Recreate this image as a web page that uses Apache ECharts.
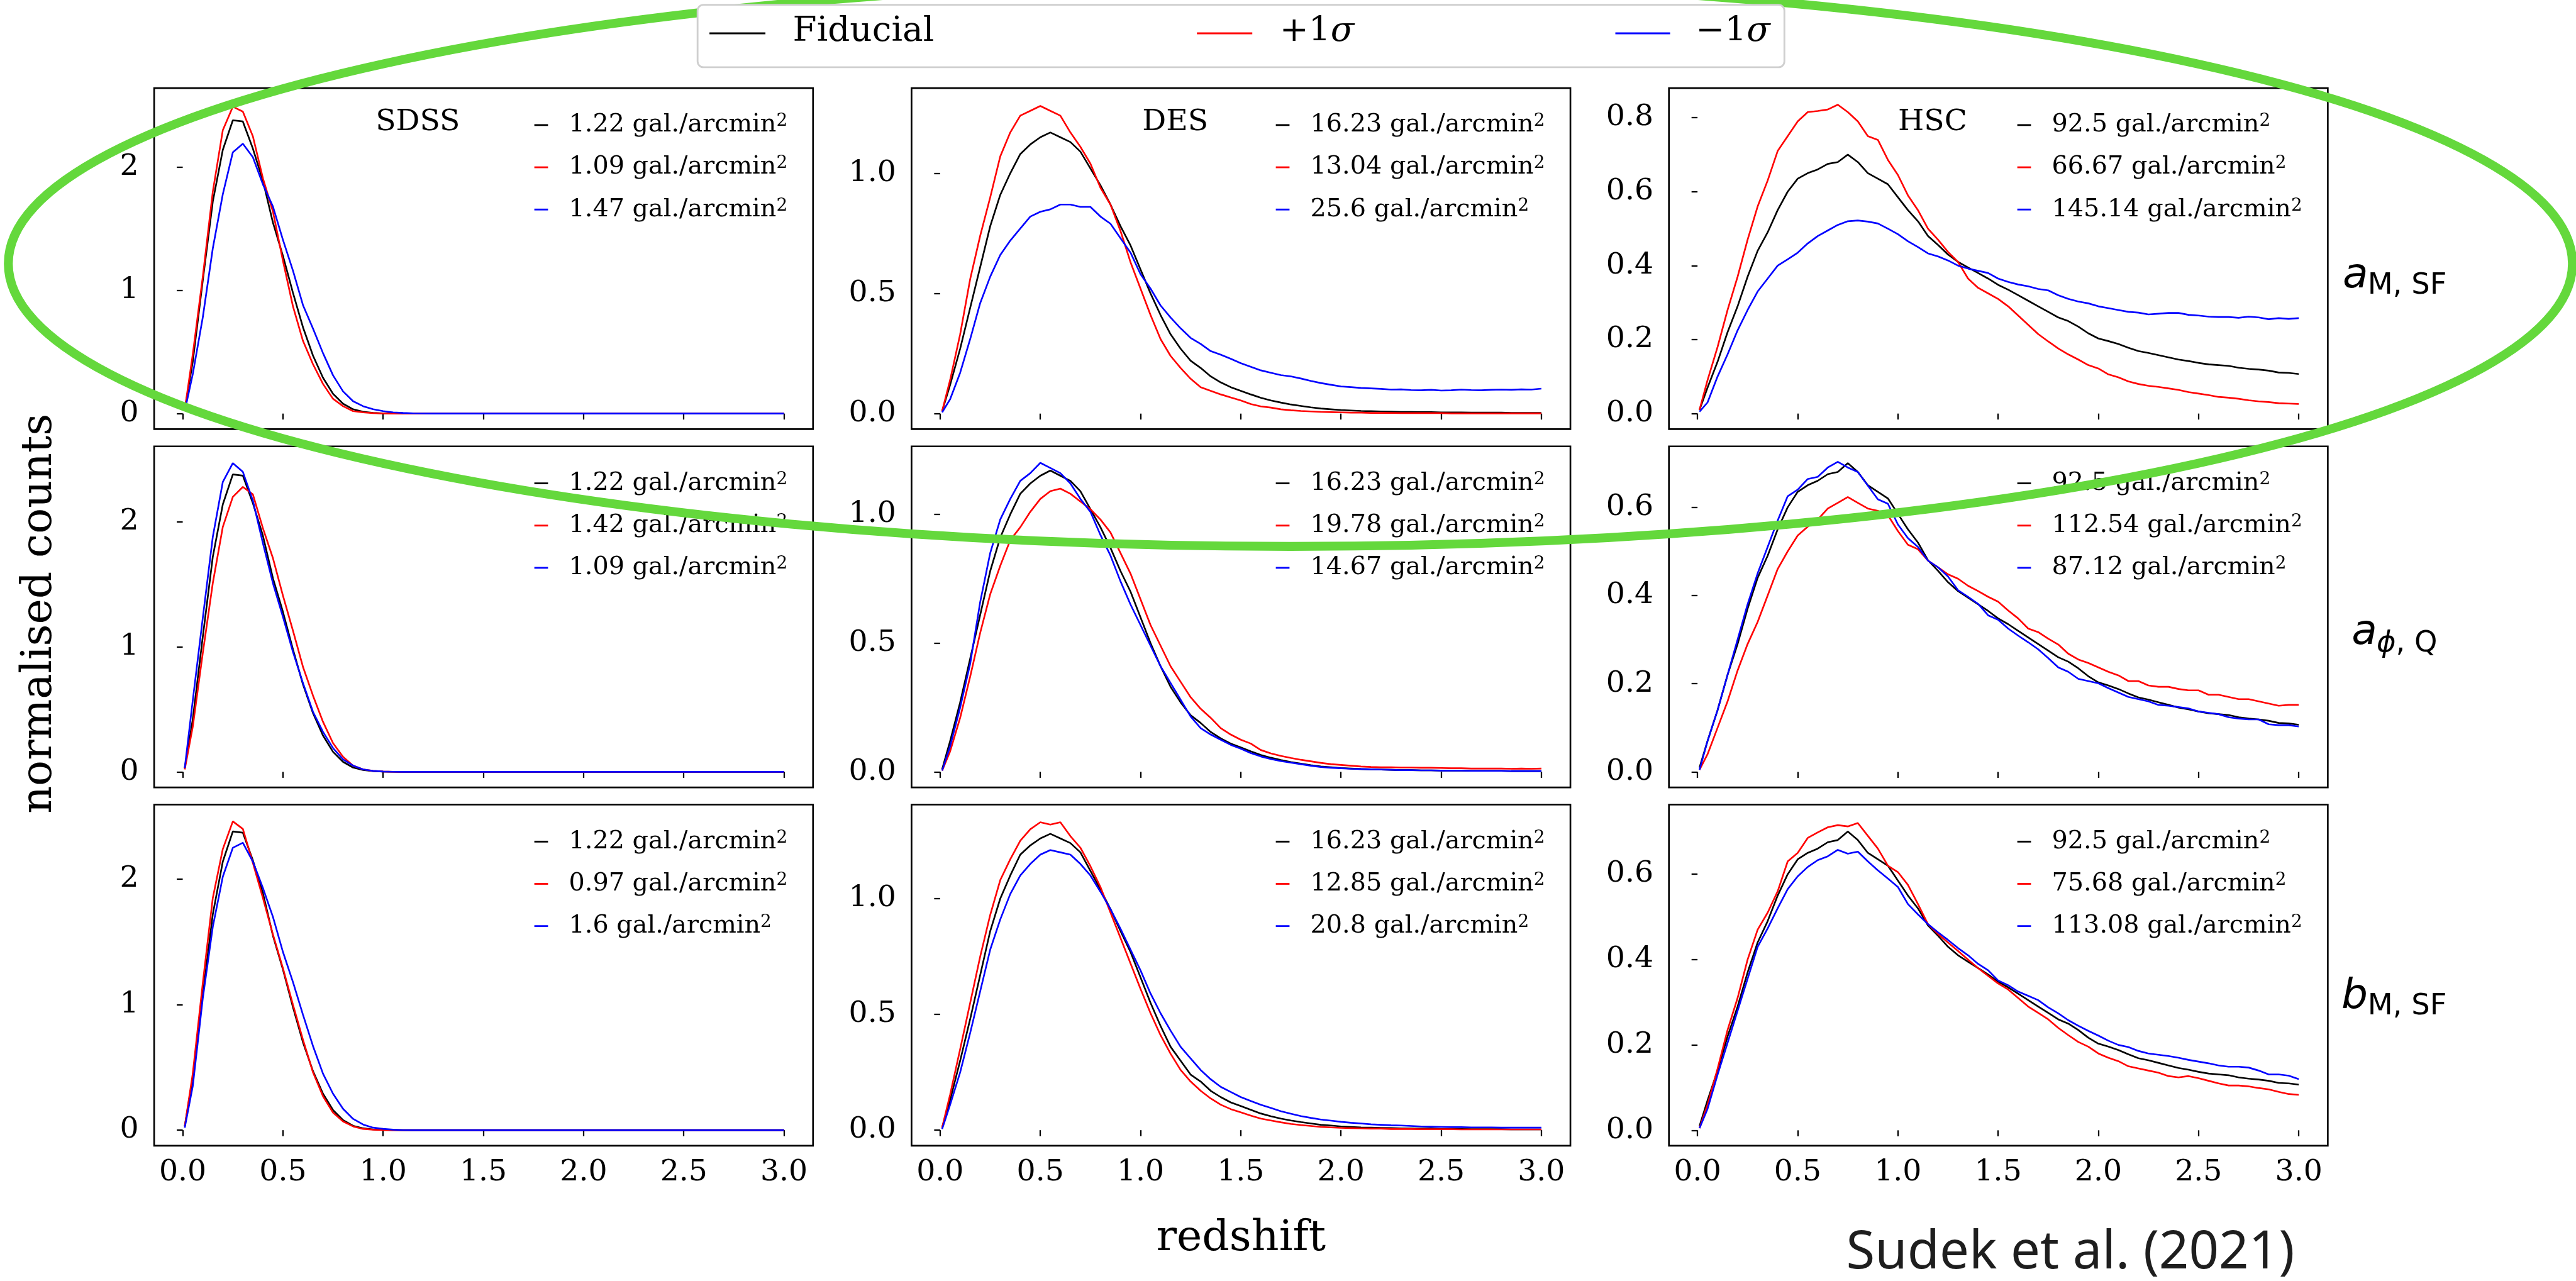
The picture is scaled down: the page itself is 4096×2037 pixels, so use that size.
<!DOCTYPE html>
<html>
<head>
<meta charset="utf-8">
<script src="https://cdn.jsdelivr.net/npm/echarts@6/dist/echarts.min.js"></script>
<style>
  html, body { margin: 0; padding: 0; background: #ffffff; }
  #chart { width: 4096px; height: 2037px; }
</style>
</head>
<body>
<div id="chart"></div>
<script>
// ---------------------------------------------------------------------------
// Redshift sampling shared by every curve
// ---------------------------------------------------------------------------
const REDSHIFT = [
  0.01, 0.05, 0.10, 0.15, 0.20, 0.25, 0.30, 0.35, 0.40, 0.45,
  0.50, 0.55, 0.60, 0.65, 0.70, 0.75, 0.80, 0.85, 0.90, 0.95,
  1.00, 1.05, 1.10, 1.15, 1.20, 1.25, 1.30, 1.35, 1.40, 1.45,
  1.50, 1.55, 1.60, 1.65, 1.70, 1.75, 1.80, 1.85, 1.90, 1.95,
  2.00, 2.05, 2.10, 2.15, 2.20, 2.25, 2.30, 2.35, 2.40, 2.45,
  2.50, 2.55, 2.60, 2.65, 2.70, 2.75, 2.80, 2.85, 2.90, 2.95,
  3.00
];

// ---------------------------------------------------------------------------
// SDSS normalised counts
// ---------------------------------------------------------------------------
const SDSS_FID = [
  0.03, 0.42, 1.08, 1.72, 2.14, 2.38, 2.37, 2.15, 1.89, 1.55,
  1.28, 0.98, 0.70, 0.47, 0.29, 0.16, 0.08, 0.035, 0.015, 0.006,
  0.002, 0.001, 0, 0, 0, 0, 0, 0, 0, 0,
  0, 0, 0, 0, 0, 0, 0, 0, 0, 0,
  0, 0, 0, 0, 0, 0, 0, 0, 0, 0,
  0, 0, 0, 0, 0, 0, 0, 0, 0, 0,
  0
];
const SDSS_AMSF_PLUS = [
  0.03, 0.48, 1.11, 1.80, 2.30, 2.49, 2.45, 2.25, 1.91, 1.64,
  1.24, 0.87, 0.59, 0.40, 0.24, 0.12, 0.06, 0.02, 0.01, 0.004,
  0.001, 0, 0, 0, 0, 0, 0, 0, 0, 0,
  0, 0, 0, 0, 0, 0, 0, 0, 0, 0,
  0, 0, 0, 0, 0, 0, 0, 0, 0, 0,
  0, 0, 0, 0, 0, 0, 0, 0, 0, 0,
  0
];
const SDSS_AMSF_MINUS = [
  0.02, 0.32, 0.78, 1.34, 1.78, 2.12, 2.19, 2.08, 1.86, 1.68,
  1.41, 1.16, 0.88, 0.69, 0.49, 0.31, 0.18, 0.10, 0.06, 0.035,
  0.02, 0.01, 0.005, 0.002, 0.001, 0, 0, 0, 0, 0,
  0, 0, 0, 0, 0, 0, 0, 0, 0, 0,
  0, 0, 0, 0, 0, 0, 0, 0, 0, 0,
  0, 0, 0, 0, 0, 0, 0, 0, 0, 0,
  0
];
const SDSS_APHIQ_PLUS = [
  0.02, 0.36, 0.95, 1.51, 1.96, 2.20, 2.28, 2.22, 1.95, 1.71,
  1.41, 1.13, 0.84, 0.61, 0.40, 0.23, 0.12, 0.05, 0.02, 0.008,
  0.003, 0.001, 0, 0, 0, 0, 0, 0, 0, 0,
  0, 0, 0, 0, 0, 0, 0, 0, 0, 0,
  0, 0, 0, 0, 0, 0, 0, 0, 0, 0,
  0, 0, 0, 0, 0, 0, 0, 0, 0, 0,
  0
];
const SDSS_APHIQ_MINUS = [
  0.03, 0.57, 1.23, 1.88, 2.32, 2.47, 2.40, 2.17, 1.83, 1.51,
  1.24, 0.96, 0.71, 0.48, 0.32, 0.19, 0.10, 0.05, 0.02, 0.008,
  0.003, 0.001, 0, 0, 0, 0, 0, 0, 0, 0,
  0, 0, 0, 0, 0, 0, 0, 0, 0, 0,
  0, 0, 0, 0, 0, 0, 0, 0, 0, 0,
  0, 0, 0, 0, 0, 0, 0, 0, 0, 0,
  0
];
const SDSS_BMSF_PLUS = [
  0.03, 0.45, 1.17, 1.85, 2.24, 2.46, 2.40, 2.13, 1.85, 1.56,
  1.29, 1.00, 0.72, 0.46, 0.27, 0.14, 0.07, 0.03, 0.01, 0.004,
  0.001, 0, 0, 0, 0, 0, 0, 0, 0, 0,
  0, 0, 0, 0, 0, 0, 0, 0, 0, 0,
  0, 0, 0, 0, 0, 0, 0, 0, 0, 0,
  0, 0, 0, 0, 0, 0, 0, 0, 0, 0,
  0
];
const SDSS_BMSF_MINUS = [
  0.02, 0.35, 1.05, 1.62, 2.02, 2.25, 2.29, 2.14, 1.93, 1.70,
  1.42, 1.18, 0.92, 0.67, 0.45, 0.29, 0.17, 0.09, 0.045, 0.02,
  0.01, 0.004, 0.001, 0, 0, 0, 0, 0, 0, 0,
  0, 0, 0, 0, 0, 0, 0, 0, 0, 0,
  0, 0, 0, 0, 0, 0, 0, 0, 0, 0,
  0, 0, 0, 0, 0, 0, 0, 0, 0, 0,
  0
];

// ---------------------------------------------------------------------------
// DES normalised counts
// ---------------------------------------------------------------------------
const DES_FID = [
  0.01, 0.12, 0.27, 0.44, 0.61, 0.78, 0.91, 1.00, 1.08, 1.12,
  1.15, 1.17, 1.15, 1.13, 1.09, 1.02, 0.95, 0.87, 0.78, 0.70,
  0.60, 0.50, 0.41, 0.33, 0.27, 0.22, 0.19, 0.155, 0.13, 0.11,
  0.095, 0.08, 0.066, 0.055, 0.046, 0.038, 0.032, 0.026, 0.021, 0.018,
  0.015, 0.013, 0.011, 0.010, 0.009, 0.008, 0.007, 0.007, 0.006, 0.006,
  0.005, 0.005, 0.005, 0.004, 0.004, 0.004, 0.004, 0.003, 0.003, 0.003,
  0.003
];
const DES_AMSF_PLUS = [
  0.01, 0.14, 0.33, 0.56, 0.74, 0.90, 1.07, 1.17, 1.24, 1.26,
  1.28, 1.26, 1.24, 1.17, 1.11, 1.04, 0.94, 0.87, 0.76, 0.63,
  0.52, 0.41, 0.31, 0.24, 0.19, 0.145, 0.11, 0.095, 0.08, 0.067,
  0.055, 0.04, 0.03, 0.025, 0.018, 0.014, 0.011, 0.009, 0.007, 0.006,
  0.005, 0.004, 0.004, 0.003, 0.003, 0.003, 0.002, 0.002, 0.002, 0.002,
  0.002, 0.001, 0.001, 0.001, 0.001, 0.001, 0.001, 0.001, 0.001, 0.001,
  0.001
];
const DES_AMSF_MINUS = [
  0.005, 0.06, 0.17, 0.31, 0.46, 0.57, 0.66, 0.72, 0.77, 0.82,
  0.84, 0.85, 0.87, 0.87, 0.86, 0.86, 0.82, 0.79, 0.73, 0.67,
  0.58, 0.52, 0.45, 0.40, 0.355, 0.315, 0.29, 0.26, 0.245, 0.228,
  0.21, 0.195, 0.18, 0.17, 0.16, 0.155, 0.146, 0.136, 0.127, 0.12,
  0.113, 0.11, 0.107, 0.105, 0.103, 0.10, 0.101, 0.098, 0.097, 0.099,
  0.096, 0.097, 0.10, 0.098, 0.097, 0.099, 0.10, 0.099, 0.101, 0.10,
  0.104
];
const DES_APHIQ_PLUS = [
  0.005, 0.08, 0.21, 0.37, 0.54, 0.69, 0.80, 0.90, 0.95, 1.01,
  1.06, 1.09, 1.10, 1.08, 1.05, 1.02, 0.98, 0.93, 0.85, 0.77,
  0.67, 0.57, 0.49, 0.41, 0.35, 0.29, 0.245, 0.21, 0.17, 0.145,
  0.125, 0.11, 0.085, 0.072, 0.062, 0.054, 0.047, 0.041, 0.035, 0.03,
  0.027, 0.024, 0.021, 0.019, 0.018, 0.018, 0.017, 0.017, 0.016, 0.016,
  0.015, 0.014, 0.014, 0.013, 0.013, 0.013, 0.013, 0.012, 0.013, 0.012,
  0.013
];
const DES_APHIQ_MINUS = [
  0.005, 0.10, 0.25, 0.42, 0.66, 0.85, 0.98, 1.06, 1.13, 1.16,
  1.20, 1.18, 1.16, 1.12, 1.06, 1.01, 0.92, 0.84, 0.74, 0.65,
  0.57, 0.49, 0.41, 0.345, 0.28, 0.215, 0.17, 0.145, 0.125, 0.105,
  0.09, 0.073, 0.06, 0.05, 0.042, 0.036, 0.03, 0.024, 0.019, 0.016,
  0.014, 0.012, 0.011, 0.010, 0.009, 0.008, 0.007, 0.007, 0.006, 0.006,
  0.005, 0.005, 0.005, 0.004, 0.004, 0.004, 0.004, 0.003, 0.003, 0.003,
  0.003
];
// b_M,SF row is plotted on its own, taller axis
const DES_FID_BROW = [
  0.011, 0.13, 0.30, 0.48, 0.67, 0.86, 1.00, 1.10, 1.19, 1.23,
  1.26, 1.28, 1.26, 1.24, 1.20, 1.12, 1.04, 0.955, 0.86, 0.77,
  0.66, 0.55, 0.45, 0.36, 0.30, 0.24, 0.21, 0.17, 0.143, 0.12,
  0.104, 0.088, 0.072, 0.06, 0.05, 0.042, 0.035, 0.029, 0.023, 0.02,
  0.016, 0.014, 0.012, 0.011, 0.010, 0.009, 0.008, 0.008, 0.007, 0.007,
  0.005, 0.005, 0.005, 0.004, 0.004, 0.004, 0.004, 0.003, 0.003, 0.003,
  0.003
];
const DES_BMSF_PLUS = [
  0.011, 0.154, 0.35, 0.55, 0.75, 0.93, 1.08, 1.17, 1.25, 1.30,
  1.33, 1.32, 1.33, 1.27, 1.22, 1.14, 1.05, 0.94, 0.83, 0.72,
  0.61, 0.505, 0.41, 0.33, 0.26, 0.21, 0.17, 0.137, 0.11, 0.091,
  0.077, 0.063, 0.05, 0.042, 0.034, 0.027, 0.022, 0.018, 0.014, 0.012,
  0.010, 0.009, 0.008, 0.007, 0.007, 0.005, 0.005, 0.005, 0.004, 0.004,
  0.004, 0.004, 0.003, 0.003, 0.003, 0.003, 0.003, 0.003, 0.003, 0.003,
  0.003
];
const DES_BMSF_MINUS = [
  0.005, 0.11, 0.25, 0.42, 0.60, 0.78, 0.91, 1.02, 1.10, 1.15,
  1.19, 1.21, 1.20, 1.19, 1.15, 1.10, 1.03, 0.955, 0.87, 0.78,
  0.69, 0.59, 0.505, 0.43, 0.36, 0.31, 0.26, 0.22, 0.187, 0.165,
  0.143, 0.126, 0.11, 0.096, 0.082, 0.071, 0.061, 0.053, 0.046, 0.041,
  0.036, 0.032, 0.029, 0.025, 0.023, 0.021, 0.02, 0.018, 0.016, 0.015,
  0.014, 0.013, 0.013, 0.012, 0.012, 0.012, 0.011, 0.011, 0.011, 0.011,
  0.011
];

// ---------------------------------------------------------------------------
// HSC normalised counts
// ---------------------------------------------------------------------------
const HSC_FID = [
  0.01, 0.07, 0.14, 0.22, 0.29, 0.37, 0.44, 0.49, 0.55, 0.60,
  0.635, 0.65, 0.66, 0.675, 0.68, 0.70, 0.68, 0.65, 0.635, 0.62,
  0.585, 0.55, 0.52, 0.48, 0.456, 0.43, 0.41, 0.395, 0.38, 0.365,
  0.348, 0.335, 0.32, 0.305, 0.29, 0.275, 0.26, 0.25, 0.235, 0.217,
  0.203, 0.196, 0.188, 0.178, 0.169, 0.164, 0.158, 0.152, 0.146, 0.142,
  0.137, 0.133, 0.131, 0.129, 0.124, 0.121, 0.119, 0.116, 0.111, 0.11,
  0.107
];
const HSC_AMSF_PLUS = [
  0.01, 0.09, 0.18, 0.28, 0.37, 0.47, 0.56, 0.63, 0.71, 0.75,
  0.79, 0.815, 0.818, 0.822, 0.835, 0.815, 0.79, 0.75, 0.74, 0.686,
  0.645, 0.59, 0.55, 0.50, 0.47, 0.437, 0.41, 0.365, 0.34, 0.325,
  0.31, 0.29, 0.265, 0.24, 0.215, 0.195, 0.176, 0.16, 0.146, 0.131,
  0.122, 0.106, 0.098, 0.087, 0.08, 0.075, 0.072, 0.068, 0.064, 0.058,
  0.054, 0.05, 0.045, 0.043, 0.04, 0.036, 0.033, 0.031, 0.028, 0.027,
  0.026
];
const HSC_AMSF_MINUS = [
  0.005, 0.03, 0.10, 0.16, 0.225, 0.28, 0.33, 0.365, 0.40, 0.417,
  0.435, 0.46, 0.48, 0.495, 0.51, 0.52, 0.522, 0.519, 0.514, 0.50,
  0.485, 0.466, 0.45, 0.433, 0.425, 0.414, 0.40, 0.392, 0.386, 0.38,
  0.365, 0.356, 0.349, 0.344, 0.337, 0.333, 0.32, 0.31, 0.303, 0.298,
  0.29, 0.285, 0.28, 0.275, 0.273, 0.268, 0.27, 0.272, 0.272, 0.267,
  0.265, 0.262, 0.261, 0.261, 0.259, 0.262, 0.26, 0.255, 0.258, 0.256,
  0.258
];
const HSC_APHIQ_PLUS = [
  0.005, 0.04, 0.10, 0.16, 0.23, 0.29, 0.34, 0.40, 0.46, 0.50,
  0.536, 0.556, 0.572, 0.597, 0.61, 0.623, 0.61, 0.597, 0.592, 0.582,
  0.546, 0.515, 0.505, 0.479, 0.464, 0.448, 0.438, 0.422, 0.41, 0.397,
  0.386, 0.366, 0.348, 0.325, 0.317, 0.302, 0.289, 0.268, 0.255, 0.247,
  0.237, 0.227, 0.219, 0.206, 0.206, 0.196, 0.193, 0.193, 0.188, 0.185,
  0.185, 0.175, 0.175, 0.17, 0.165, 0.165, 0.16, 0.155, 0.15, 0.152,
  0.152
];
const HSC_APHIQ_MINUS = [
  0.005, 0.07, 0.14, 0.22, 0.30, 0.38, 0.45, 0.51, 0.57, 0.625,
  0.64, 0.664, 0.669, 0.69, 0.703, 0.69, 0.68, 0.649, 0.618, 0.608,
  0.561, 0.53, 0.51, 0.479, 0.464, 0.443, 0.412, 0.397, 0.381, 0.355,
  0.345, 0.325, 0.309, 0.294, 0.278, 0.258, 0.237, 0.227, 0.211, 0.206,
  0.201, 0.19, 0.18, 0.17, 0.165, 0.16, 0.152, 0.15, 0.147, 0.144,
  0.137, 0.134, 0.131, 0.124, 0.121, 0.119, 0.119, 0.108, 0.106, 0.106,
  0.103
];
const HSC_BMSF_PLUS = [
  0.005, 0.06, 0.144, 0.235, 0.31, 0.40, 0.47, 0.51, 0.56, 0.63,
  0.65, 0.685, 0.698, 0.71, 0.715, 0.712, 0.72, 0.69, 0.66, 0.62,
  0.605, 0.575, 0.53, 0.483, 0.46, 0.44, 0.42, 0.40, 0.38, 0.362,
  0.344, 0.33, 0.31, 0.29, 0.275, 0.26, 0.24, 0.223, 0.207, 0.196,
  0.18, 0.17, 0.162, 0.15, 0.145, 0.14, 0.135, 0.127, 0.124, 0.127,
  0.122, 0.116, 0.11, 0.105, 0.105, 0.103, 0.099, 0.096, 0.09, 0.085,
  0.083
];
const HSC_BMSF_MINUS = [
  0.005, 0.05, 0.13, 0.205, 0.28, 0.355, 0.43, 0.473, 0.52, 0.565,
  0.595, 0.617, 0.633, 0.642, 0.657, 0.648, 0.653, 0.63, 0.609, 0.59,
  0.57, 0.53, 0.506, 0.483, 0.464, 0.446, 0.427, 0.41, 0.39, 0.375,
  0.351, 0.34, 0.325, 0.315, 0.305, 0.288, 0.274, 0.258, 0.245, 0.233,
  0.222, 0.21, 0.20, 0.195, 0.186, 0.18, 0.177, 0.174, 0.17, 0.165,
  0.161, 0.157, 0.152, 0.149, 0.149, 0.147, 0.14, 0.131, 0.131, 0.128,
  0.12
];

// ---------------------------------------------------------------------------
// Labels
// ---------------------------------------------------------------------------
const SURVEYS = ['SDSS', 'DES', 'HSC'];
const VARIANT_NAMES = ['Fiducial', '+1', '\u22121'];
// galaxy densities in gal./arcmin², per row (parameter) and column (survey): [fiducial, +1σ, −1σ]
const DENSITIES = [
  [['1.22', '1.09', '1.47'], ['16.23', '13.04', '25.6'], ['92.5', '66.67', '145.14']],
  [['1.22', '1.42', '1.09'], ['16.23', '19.78', '14.67'], ['92.5', '112.54', '87.12']],
  [['1.22', '0.97', '1.6'], ['16.23', '12.85', '20.8'], ['92.5', '75.68', '113.08']]
];
const CURVES = [
  [[SDSS_FID, SDSS_AMSF_PLUS, SDSS_AMSF_MINUS], [DES_FID, DES_AMSF_PLUS, DES_AMSF_MINUS], [HSC_FID, HSC_AMSF_PLUS, HSC_AMSF_MINUS]],
  [[SDSS_FID, SDSS_APHIQ_PLUS, SDSS_APHIQ_MINUS], [DES_FID, DES_APHIQ_PLUS, DES_APHIQ_MINUS], [HSC_FID, HSC_APHIQ_PLUS, HSC_APHIQ_MINUS]],
  [[SDSS_FID, SDSS_BMSF_PLUS, SDSS_BMSF_MINUS], [DES_FID_BROW, DES_BMSF_PLUS, DES_BMSF_MINUS], [HSC_FID, HSC_BMSF_PLUS, HSC_BMSF_MINUS]]
];
const PARAM_LABELS = [
  { main: 'a', sub: [['n', 'M, SF']] },
  { main: 'a', sub: [['i', '\u03d5'], ['n', ', Q']] },
  { main: 'b', sub: [['n', 'M, SF']] }
];

// axis ticks and ranges
const X_TICKS = [0, 0.5, 1.0, 1.5, 2.0, 2.5, 3.0];
const X_RANGE = [-0.1426, 3.145];
const Y_TICKS = [
  [[0, 1, 2], [0, 0.5, 1.0], [0, 0.2, 0.4, 0.6, 0.8]],
  [[0, 1, 2], [0, 0.5, 1.0], [0, 0.2, 0.4, 0.6]],
  [[0, 1, 2], [0, 0.5, 1.0], [0, 0.2, 0.4, 0.6]]
];
const Y_DECIMALS = [0, 1, 1];
const Y_RANGE = [
  [[-0.126, 2.641], [-0.0645, 1.3545], [-0.042, 0.880]],
  [[-0.124, 2.604], [-0.0602, 1.264], [-0.035, 0.738]],
  [[-0.1235, 2.5935], [-0.067, 1.406], [-0.036, 0.763]]
];

// ---------------------------------------------------------------------------
// Layout (design units, scaled to the canvas)
// ---------------------------------------------------------------------------
const DESIGN_W = 4328;
const S = 4096 / DESIGN_W;
const COL_LEFT = [259, 1531.5, 2804];
const COL_W = 1107;
const ROW_TOP = [148, 750, 1352];
const ROW_H = 573;
const COLORS = ['#000000', '#ff0000', '#0000ff'];
const SERIF = 'DejaVu Serif';
const SANS = 'DejaVu Sans';

const grids = [], xAxes = [], yAxes = [], series = [], legends = [], graphics = [];
const legendText = {};

for (let r = 0; r < 3; r++) {
  for (let c = 0; c < 3; c++) {
    const i = r * 3 + c;
    grids.push({
      left: COL_LEFT[c] * S, top: ROW_TOP[r] * S,
      width: COL_W * S, height: ROW_H * S,
      show: true, borderColor: '#000', borderWidth: 2.8 * S,
      backgroundColor: 'transparent', containLabel: false
    });
    xAxes.push({
      type: 'value', gridIndex: i, min: X_RANGE[0], max: X_RANGE[1],
      axisLine: { show: false }, splitLine: { show: false },
      axisTick: { show: true, inside: false, customValues: X_TICKS, length: 10 * S,
        lineStyle: { color: '#000', width: 2.4 * S } },
      axisLabel: { show: r === 2, customValues: X_TICKS, margin: 20 * S,
        formatter: v => v.toFixed(1),
        fontFamily: SERIF, fontSize: 50 * S, color: '#000' }
    });
    yAxes.push({
      type: 'value', gridIndex: i, min: Y_RANGE[r][c][0], max: Y_RANGE[r][c][1],
      axisLine: { show: false }, splitLine: { show: false },
      axisTick: { show: true, inside: false, customValues: Y_TICKS[r][c], length: 10 * S,
        lineStyle: { color: '#000', width: 2.4 * S } },
      axisLabel: { show: true, customValues: Y_TICKS[r][c], margin: 26 * S,
        formatter: v => v.toFixed(Y_DECIMALS[c]),
        fontFamily: SERIF, fontSize: 50 * S, color: '#000' }
    });
    const ids = [];
    for (let k = 0; k < 3; k++) {
      const id = 'panel' + i + '_' + k;
      ids.push(id);
      legendText[id] = '{t|' + DENSITIES[r][c][k] + ' gal./arcmin}{s|2}';
      const values = CURVES[r][c][k];
      series.push({
        type: 'line', name: id, xAxisIndex: i, yAxisIndex: i,
        data: REDSHIFT.map((z, j) => [z, values[j]]),
        symbol: 'none', showSymbol: false, silent: true, animation: false,
        lineStyle: { color: COLORS[k], width: 2.8 * S },
        itemStyle: { color: COLORS[k] }
      });
    }
    legends.push({
      orient: 'vertical', align: 'left', selectedMode: false, padding: 0,
      right: (DESIGN_W - (COL_LEFT[c] + COL_W) + 43) * S,
      top: (ROW_TOP[r] + 62 - 21) * S,
      itemWidth: 23 * S, itemHeight: 3 * S, itemGap: (70.7 - 42) * S,
      icon: 'rect', itemStyle: { borderWidth: 0 },
      textStyle: {
        fontFamily: SERIF, fontSize: 42 * S, lineHeight: 42 * S, color: '#000',
        padding: [0, 0, 0, 35 * S - 5],
        rich: {
          t: { fontFamily: SERIF, fontSize: 42 * S, lineHeight: 42 * S, color: '#000' },
          s: { fontFamily: SERIF, fontSize: 29.4 * S, lineHeight: 20 * S, color: '#000', verticalAlign: 'top' }
        }
      },
      data: ids,
      formatter: name => legendText[name]
    });
  }
}

// survey titles above the first row
for (let c = 0; c < 3; c++) {
  graphics.push({
    type: 'text', x: (COL_LEFT[c] + 443) * S, y: 206 * S, z: 20,
    style: { text: SURVEYS[c], fontFamily: SERIF, fontSize: 50 * S, fill: '#000',
      align: 'center', verticalAlign: 'middle' }
  });
}

// parameter labels right of each row
const PARAM_POS = [
  { x: 3936, y: 465, sx: 3978, sy: 481 },
  { x: 3951, y: 1064, sx: 3993, sy: 1082 },
  { x: 3934, y: 1676, sx: 3978, sy: 1692 }
];
PARAM_LABELS.forEach((lab, r) => {
  const p = PARAM_POS[r];
  graphics.push({
    type: 'text', x: p.x * S, y: p.y * S, z: 20,
    style: { text: lab.main, fontFamily: SANS, fontStyle: 'italic', fontSize: 70 * S,
      fill: '#000', align: 'left', verticalAlign: 'middle' }
  });
  graphics.push({
    type: 'text', x: p.sx * S, y: p.sy * S, z: 20,
    style: {
      text: lab.sub.map(([k, t]) => '{' + k + '|' + t + '}').join(''),
      align: 'left', verticalAlign: 'middle',
      rich: {
        n: { fontFamily: SANS, fontSize: 49 * S, fill: '#000' },
        i: { fontFamily: SANS, fontStyle: 'italic', fontSize: 49 * S, fill: '#000' }
      }
    }
  });
});

// axis titles
graphics.push({
  type: 'text', x: 2085 * S, y: 2082 * S, z: 20,
  style: { text: 'redshift', fontFamily: SERIF, fontSize: 72 * S, fill: '#000',
    align: 'center', verticalAlign: 'middle' }
});
graphics.push({
  type: 'text', x: 67 * S, y: 1031 * S, rotation: Math.PI / 2, z: 20,
  style: { text: 'normalised counts', fontFamily: SERIF, fontSize: 72 * S, fill: '#000',
    align: 'center', verticalAlign: 'middle' }
});

// citation
graphics.push({
  type: 'text', x: 3855 * S, y: 2106 * S, z: 20,
  style: { text: 'Sudek et al. (2021)', fontFamily: 'Noto Sans', fontSize: 88 * S,
    fill: '#1e1e1e', align: 'right', verticalAlign: 'middle' }
});

// highlight ring around the first row
graphics.push({
  type: 'ellipse', z: 100, silent: true,
  shape: { cx: 2168 * S, cy: 443 * S, rx: 2154 * S, ry: 475 * S },
  style: { fill: 'none', stroke: '#64d83c', lineWidth: 15 * S }
});

// figure legend
const LEG_LINES = [[1192, 1286], [2011, 2104], [2714, 2806]];
const LEG_TEXT_X = [1332, 2150, 2849];
const figLegend = [{
  type: 'rect', z: 110,
  shape: { x: 1172 * S, y: 8 * S, width: (2998 - 1172) * S, height: (113 - 8) * S, r: 10 * S },
  style: { fill: '#ffffff', stroke: '#cfcfcf', lineWidth: 3 * S }
}];
for (let k = 0; k < 3; k++) {
  figLegend.push({
    type: 'line', z: 111,
    shape: { x1: LEG_LINES[k][0] * S, y1: 56 * S, x2: LEG_LINES[k][1] * S, y2: 56 * S },
    style: { stroke: COLORS[k], lineWidth: 3 * S }
  });
  const txt = k === 0 ? '{n|' + VARIANT_NAMES[0] + '}' : '{n|' + VARIANT_NAMES[k] + '}{i|\u03c3}';
  figLegend.push({
    type: 'text', z: 111, x: LEG_TEXT_X[k] * S, y: 54 * S,
    style: {
      text: txt, align: 'left', verticalAlign: 'middle',
      rich: {
        n: { fontFamily: SERIF, fontSize: 58 * S, fill: '#000' },
        i: { fontFamily: SERIF, fontStyle: 'italic', fontSize: 58 * S, fill: '#000' }
      }
    }
  });
}
figLegend.forEach(el => graphics.push(el));

const chart = echarts.init(document.getElementById('chart'), null, { renderer: 'canvas', width: 4096, height: 2037 });
chart.setOption({
  animation: false,
  backgroundColor: '#ffffff',
  grid: grids,
  xAxis: xAxes,
  yAxis: yAxes,
  legend: legends,
  series: series,
  graphic: { elements: graphics }
});
</script>
</body>
</html>
